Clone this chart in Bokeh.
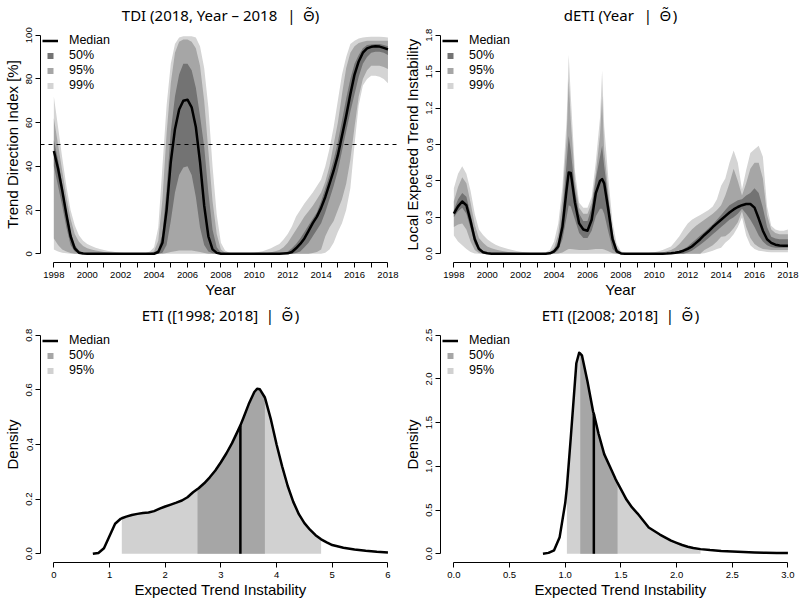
import numpy as np
from bokeh.plotting import figure
from bokeh.models import (FixedTicker, Legend, LegendItem, Span, Range1d, Title,
                          PrintfTickFormatter)
from bokeh.layouts import gridplot
from bokeh.embed import file_html
from bokeh.resources import INLINE

FONT = "Liberation Sans"
TFONT = "Noto Sans"          # renders the combining tilde over Theta correctly
THETA = "\u0398\u0303"
EN, TH, HS = "\u2002", "\u2009", "\u200a"

# ------------------------------------------------------------------ data
tdi_years = np.arange(1998.0, 2018.01, 0.25)
tdi_median = [47, 39, 29, 18, 8, 2.5, 0.5, 0.1, 0, 0, 0, 0, 0, 0, 0, 0, 0, 0, 0, 0, 0, 0, 0, 0,
              0, 0.8, 5, 20, 42, 57, 66, 70, 70.5, 67, 58, 42, 22, 8, 2, 0.4,
              0, 0, 0, 0, 0, 0, 0, 0, 0, 0, 0, 0, 0, 0, 0, 0.1,
              0.2, 0.8, 2.5, 4.5, 7, 10.5, 14, 17, 21, 26, 32, 38, 45, 54, 63, 73,
              82, 88, 92, 94, 94.7, 95, 94.8, 94.2, 93.5]
tdi_lo50 = [40, 31, 22, 12, 4, 1, 0.2, 0, 0, 0, 0, 0, 0, 0, 0, 0, 0, 0, 0, 0, 0, 0, 0, 0,
            0, 0, 0.5, 4, 15, 28, 36, 39.5, 40, 36, 26, 12, 4, 1, 0.2, 0,
            0, 0, 0, 0, 0, 0, 0, 0, 0, 0, 0, 0, 0, 0, 0, 0,
            0, 0, 0.3, 1, 3, 5, 8, 11, 14, 19, 25, 31, 38, 47, 56, 65,
            73, 81, 87, 90, 92, 92.5, 92.5, 92, 91]
tdi_hi50 = [52, 43, 32, 20, 10, 4, 1.5, 0.5, 0.2, 0.1, 0, 0, 0, 0, 0, 0, 0, 0, 0, 0, 0, 0, 0, 0,
            0.2, 2, 9, 30, 56, 72, 82, 87, 87, 84, 76, 63, 49, 28, 11, 3,
            0.5, 0.1, 0, 0, 0, 0, 0, 0, 0, 0, 0, 0, 0, 0, 0.1, 0.3,
            1, 2.5, 4.5, 7, 10, 13, 16, 19, 24, 30, 36, 43, 51, 61, 71, 80,
            87, 91, 94, 95.5, 95.8, 96, 96, 95.5, 95]
tdi_lo95 = [7, 4, 2, 1, 0.3, 0, 0, 0, 0, 0, 0, 0, 0, 0, 0, 0, 0, 0, 0, 0, 0, 0, 0, 0,
            0, 0, 0, 0.3, 0.8, 1.2, 1.5, 1.5, 1.5, 1.5, 1.2, 0.8, 0.3, 0, 0, 0,
            0, 0, 0, 0, 0, 0, 0, 0, 0, 0, 0, 0, 0, 0, 0, 0,
            0, 0, 0, 0, 0, 0, 0.3, 0.8, 2, 8, 12, 15, 20, 25, 32, 43,
            58, 72, 80, 84, 86, 86, 86, 85.5, 84.5]
tdi_hi95 = [62, 50, 38, 26, 16, 9, 5.5, 3.5, 2.5, 2, 1.5, 1.1, 0.8, 0.6, 0.4, 0.3,
            0.2, 0.1, 0.05, 0, 0, 0, 0, 0.3,
            1.2, 6, 25, 55, 78, 92, 97, 98, 98, 97, 94, 86, 70, 47, 24, 9,
            2, 0.5, 0.1, 0, 0, 0, 0, 0, 0, 0.1, 0.2, 0.4, 0.7, 1.1, 1.7, 3,
            5, 8, 11, 14, 17, 19.5, 22, 25, 28, 33, 40, 50, 60, 73, 85, 92,
            95, 96.5, 97, 97.5, 97.5, 97.5, 97.5, 97.5, 97.5]
tdi_lo99 = [2, 1, 0.5, 0.2, 0, 0, 0, 0, 0, 0, 0, 0, 0, 0, 0, 0, 0, 0, 0, 0, 0, 0, 0, 0,
            0, 0, 0, 0, 0, 0, 0, 0, 0, 0, 0, 0, 0, 0, 0, 0,
            0, 0, 0, 0, 0, 0, 0, 0, 0, 0, 0, 0, 0, 0, 0, 0,
            0, 0, 0, 0, 0, 0, 0, 0, 0, 0.5, 2, 5, 10, 14, 20, 30,
            50, 68, 77, 80, 81.5, 81.5, 81, 80, 78]
tdi_hi99 = [72, 58, 44, 31, 20, 13, 8.5, 6, 4.5, 3.5, 2.8, 2.2, 1.7, 1.3, 1, 0.7,
            0.5, 0.3, 0.2, 0.1, 0, 0, 0.3, 1,
            3, 12, 40, 68, 87, 96, 99, 99.5, 99.5, 99.5, 99, 95, 85, 67, 40, 18,
            5, 1.5, 0.5, 0.2, 0.1, 0.1, 0.2, 0.3, 0.5, 0.8, 1.2, 1.8, 2.5, 3.5, 4.5, 6.5,
            9, 12.5, 17, 20, 23, 25.5, 28, 31, 34, 40, 48, 58, 70, 82, 90, 96,
            97.5, 98.5, 99, 99.2, 99.3, 99.3, 99.3, 99.2, 99]
tdi_threshold = 50

deti_years = np.array(sorted(list(np.arange(1998.0, 2018.01, 0.25)) + [2004.875, 2006.875]))
deti_median = [0.33, 0.39, 0.43, 0.40, 0.27, 0.12, 0.04, 0.012, 0.004, 0.001, 0, 0,
               0, 0, 0, 0, 0, 0, 0, 0, 0, 0, 0, 0.004,
               0.02, 0.06, 0.22, 0.53, 0.67, 0.665, 0.42, 0.25, 0.20,
               0.19, 0.28, 0.50, 0.60, 0.615, 0.58, 0.36, 0.12, 0.02,
               0.003, 0, 0, 0, 0, 0, 0, 0, 0, 0, 0.001, 0.002, 0.004, 0.008, 0.015, 0.025,
               0.04, 0.06, 0.09, 0.12, 0.155, 0.185, 0.22, 0.25, 0.28, 0.31, 0.34, 0.365,
               0.385, 0.40, 0.41, 0.41, 0.38, 0.29, 0.19, 0.12, 0.09, 0.075, 0.068, 0.066, 0.065]
deti_lo50 = [0.30, 0.35, 0.38, 0.33, 0.21, 0.08, 0.02, 0.004, 0, 0, 0, 0,
             0, 0, 0, 0, 0, 0, 0, 0, 0, 0, 0, 0,
             0.005, 0.03, 0.12, 0.30, 0.40, 0.39, 0.28, 0.17, 0.13,
             0.13, 0.19, 0.31, 0.37, 0.37, 0.33, 0.18, 0.04, 0.005,
             0, 0, 0, 0, 0, 0, 0, 0, 0, 0, 0, 0, 0, 0, 0, 0,
             0.01, 0.025, 0.05, 0.075, 0.10, 0.13, 0.16, 0.19, 0.22, 0.25, 0.28, 0.30,
             0.33, 0.37, 0.33, 0.28, 0.22, 0.15, 0.10, 0.07, 0.055, 0.05, 0.05, 0.05, 0.05]
deti_hi50 = [0.36, 0.45, 0.50, 0.47, 0.33, 0.16, 0.06, 0.02, 0.008, 0.003, 0.001, 0,
             0, 0, 0, 0, 0, 0, 0, 0, 0, 0, 0.001, 0.006,
             0.03, 0.10, 0.32, 0.75, 0.97, 0.85, 0.52, 0.33, 0.27,
             0.27, 0.38, 0.62, 0.80, 0.89, 0.72, 0.45, 0.16, 0.04,
             0.008, 0.002, 0, 0, 0, 0, 0, 0, 0, 0.001, 0.002, 0.004, 0.008, 0.015, 0.025, 0.04,
             0.06, 0.09, 0.12, 0.15, 0.18, 0.21, 0.24, 0.28, 0.32, 0.36, 0.40, 0.42,
             0.44, 0.45, 0.48, 0.50, 0.54, 0.50, 0.38, 0.22, 0.14, 0.125, 0.12, 0.12, 0.12]
deti_lo95 = [0.22, 0.24, 0.25, 0.20, 0.10, 0.03, 0.006, 0.001, 0, 0, 0, 0,
             0, 0, 0, 0, 0, 0, 0, 0, 0, 0, 0, 0,
             0, 0.003, 0.01, 0.03, 0.04, 0.04, 0.035, 0.03, 0.03,
             0.03, 0.035, 0.04, 0.04, 0.04, 0.035, 0.02, 0.005, 0,
             0, 0, 0, 0, 0, 0, 0, 0, 0, 0, 0, 0, 0, 0, 0, 0, 0, 0, 0, 0,
             0.03, 0.05, 0.07, 0.10, 0.14, 0.145, 0.17, 0.21,
             0.26, 0.35, 0.22, 0.13, 0.08, 0.055, 0.04, 0.035, 0.03, 0.03, 0.03, 0.03, 0.03]
deti_hi95 = [0.43, 0.55, 0.63, 0.58, 0.42, 0.24, 0.13, 0.09, 0.06, 0.045, 0.035, 0.027,
             0.02, 0.015, 0.01, 0.007, 0.005, 0.003, 0.002, 0.001, 0, 0.001, 0.004, 0.012,
             0.05, 0.16, 0.45, 0.95, 1.44, 1.10, 0.60, 0.38, 0.33,
             0.33, 0.42, 0.66, 0.98, 1.30, 0.85, 0.50, 0.18, 0.05,
             0.01, 0.003, 0.001, 0, 0, 0, 0, 0.001, 0.002, 0.005, 0.01, 0.02, 0.03, 0.05, 0.08, 0.12,
             0.16, 0.20, 0.23, 0.255, 0.28, 0.305, 0.33, 0.36, 0.40, 0.48, 0.58, 0.70,
             0.60, 0.48, 0.58, 0.70, 0.75, 0.75, 0.62, 0.32, 0.20, 0.17, 0.16, 0.16, 0.16]
deti_lo99 = [0.15, 0.10, 0.07, 0.04, 0.015, 0.003, 0, 0, 0, 0, 0, 0,
             0, 0, 0, 0, 0, 0, 0, 0, 0, 0, 0, 0,
             0, 0, 0, 0, 0, 0, 0, 0, 0,
             0, 0, 0, 0, 0, 0, 0, 0, 0,
             0, 0, 0, 0, 0, 0, 0, 0, 0, 0, 0, 0, 0, 0, 0, 0, 0, 0, 0, 0,
             0.005, 0.015, 0.025, 0.04, 0.05, 0.09, 0.12, 0.16,
             0.22, 0.30, 0.15, 0.07, 0.04, 0.025, 0.02, 0.015, 0.012, 0.012, 0.012, 0.012, 0.012]
deti_hi99 = [0.54, 0.66, 0.72, 0.66, 0.52, 0.33, 0.20, 0.155, 0.12, 0.095, 0.075, 0.06,
             0.05, 0.04, 0.03, 0.023, 0.017, 0.012, 0.008, 0.005, 0.003, 0.006, 0.012, 0.03,
             0.10, 0.25, 0.55, 1.10, 1.64, 1.30, 0.68, 0.42, 0.38,
             0.38, 0.47, 0.76, 1.12, 1.51, 1.05, 0.62, 0.26, 0.08,
             0.02, 0.008, 0.004, 0.003, 0.003, 0.004, 0.005, 0.008, 0.012, 0.02, 0.03, 0.045,
             0.06, 0.10, 0.145, 0.20,
             0.25, 0.28, 0.30, 0.32, 0.34, 0.36, 0.39, 0.45, 0.56, 0.62, 0.75, 0.85,
             0.75, 0.53, 0.69, 0.83, 0.86, 0.89, 0.80, 0.39, 0.23, 0.20, 0.19, 0.19, 0.20]

eti1_x = [0.7, 0.8, 0.9, 1.0, 1.1, 1.2, 1.22, 1.3, 1.4, 1.5, 1.6, 1.7, 1.8, 1.9, 2.0,
          2.1, 2.2, 2.3, 2.4, 2.5, 2.58, 2.6, 2.7, 2.8, 2.9, 3.0, 3.1, 3.2, 3.3, 3.35,
          3.4, 3.5, 3.6, 3.65, 3.7, 3.79, 3.8, 3.9, 4.0, 4.1, 4.2, 4.3, 4.4, 4.5, 4.6,
          4.7, 4.8, 4.9, 5.0, 5.2, 5.4, 5.6, 5.8, 6.0]
eti1_d = [0.0, 0.003, 0.02, 0.065, 0.110, 0.128, 0.130, 0.136, 0.142, 0.146, 0.149, 0.151,
          0.156, 0.165, 0.173, 0.180, 0.187, 0.195, 0.207, 0.225, 0.237, 0.240, 0.258, 0.28,
          0.305, 0.335, 0.368, 0.405, 0.448, 0.470, 0.495, 0.548, 0.592, 0.604, 0.602, 0.572,
          0.565, 0.490, 0.400, 0.320, 0.248, 0.190, 0.145, 0.112, 0.088, 0.068, 0.053, 0.042,
          0.032, 0.022, 0.016, 0.011, 0.007, 0.005]
eti1_ci95 = (1.22, 4.8)
eti1_ci50 = (2.58, 3.79)
eti1_median = 3.35

eti2_x = [0.8, 0.85, 0.9, 0.95, 1.0, 1.015, 1.05, 1.1, 1.125, 1.135, 1.15, 1.2, 1.25, 1.257,
          1.3, 1.35, 1.4, 1.45, 1.47, 1.5, 1.55, 1.6, 1.65, 1.7, 1.75, 1.8, 1.85, 1.9, 1.95,
          2.0, 2.05, 2.1, 2.15, 2.215, 2.3, 2.4, 2.5, 2.6, 2.7, 2.8, 2.9, 3.0]
eti2_d = [0.0, 0.01, 0.04, 0.19, 0.58, 0.76, 1.33, 2.18, 2.30, 2.29, 2.27, 1.97, 1.63, 1.60,
          1.37, 1.14, 1.00, 0.86, 0.81, 0.74, 0.62, 0.53, 0.46, 0.38, 0.30, 0.26, 0.22, 0.185,
          0.15, 0.125, 0.10, 0.08, 0.066, 0.053, 0.042, 0.032, 0.025, 0.02, 0.015, 0.011,
          0.009, 0.008]
eti2_ci95 = (1.015, 2.215)
eti2_ci50 = (1.135, 1.47)
eti2_median = 1.257

year_ticks = list(range(1998, 2019))
tdi_yticks = [0, 20, 40, 60, 80, 100]
deti_yticks = [0.0, 0.3, 0.6, 0.9, 1.2, 1.5, 1.8]
eti1_xticks = [0, 1, 2, 3, 4, 5, 6]
eti1_yticks = [0.0, 0.2, 0.4, 0.6, 0.8]
eti2_xticks = [0.0, 0.5, 1.0, 1.5, 2.0, 2.5, 3.0]
eti2_yticks = [0.0, 0.5, 1.0, 1.5, 2.0, 2.5]

# ------------------------------------------------------------------ style
DARK, MID, LIGHT = "#737373", "#a6a6a6", "#d4d4d4"
E50, E95 = "#a6a6a6", "#d1d1d1"

W, H = 400, 300
BL, BT, BB = 39, 25, 38
FW, FH = W - BL, H - BT - BB


def make_fig(xr, yr, title):
    p = figure(width=W, height=H, x_range=Range1d(*xr), y_range=Range1d(*yr),
               output_backend="svg", toolbar_location=None,
               min_border_left=BL, min_border_right=0, min_border_top=BT,
               min_border_bottom=BB)
    p.title = Title(text=title, align="center", text_font=TFONT, text_font_size="15px",
                    text_font_style="normal", text_color="black", standoff=4)
    p.outline_line_color = None
    p.grid.visible = False
    p.background_fill_color = "white"
    p.border_fill_color = "white"
    return p


def style_axes(p, xticks, yticks, xbounds, ybounds, xlabel, ylabel,
               xfmt=None, yfmt=None, xover=None):
    xa, ya = p.xaxis[0], p.yaxis[0]
    for ax in (xa, ya):
        ax.axis_line_color = "black"
        ax.axis_line_width = 1
        ax.major_tick_line_color = "black"
        ax.major_tick_line_width = 1
        ax.major_tick_out = 5
        ax.major_tick_in = 0
        ax.minor_tick_line_color = None
        ax.major_label_text_font = FONT
        ax.major_label_text_font_size = "9.5px"
        ax.major_label_text_color = "black"
        ax.axis_label_text_font = FONT
        ax.axis_label_text_font_size = "15px"
        ax.axis_label_text_font_style = "normal"
        ax.axis_label_text_color = "black"
    xa.axis_label_standoff = 0
    ya.axis_label_standoff = 3
    xa.axis_label = xlabel
    ya.axis_label = ylabel
    xa.ticker = FixedTicker(ticks=xticks, minor_ticks=[])
    ya.ticker = FixedTicker(ticks=yticks, minor_ticks=[])
    xa.bounds = xbounds
    ya.bounds = ybounds
    xa.major_label_standoff = 4
    ya.major_label_standoff = 3
    ya.major_label_orientation = "vertical"
    if xfmt:
        xa.formatter = PrintfTickFormatter(format=xfmt)
    if yfmt:
        ya.formatter = PrintfTickFormatter(format=yfmt)
    if xover:
        xa.major_label_overrides = xover


def add_legend(p, med_r, entries):
    items = [LegendItem(label="Median", renderers=[med_r])]
    for lab, col in entries:
        r = p.scatter(x=[np.nan], y=[np.nan], marker="square", size=10,
                      fill_color=col, line_color=None)
        items.append(LegendItem(label=lab, renderers=[r]))
    n = len(items)
    leg = Legend(items=items, location=(2, FH - 7.5 - 15 * n), glyph_width=16,
                 glyph_height=15, label_height=15, spacing=0, padding=0, margin=0,
                 label_standoff=11, border_line_color=None, background_fill_alpha=0,
                 label_text_font=FONT, label_text_font_size="12.5px",
                 label_text_color="black")
    p.add_layout(leg)


year_labels = {y: (str(y) if y % 2 == 0 else "") for y in year_ticks}

SY = 16.75
YX0 = 1998 - 13.4 / SY
yr_range = (YX0, YX0 + FW / SY)

# ------------------------------------------------------------------ panel 1: TDI
p1 = make_fig(yr_range, (-4, 104),
              "TDI (2018, Year \u2013 2018" + EN + TH + "|" + EN + THETA + ")")
p1.varea(x=tdi_years, y1=tdi_lo99, y2=tdi_hi99, fill_color=LIGHT)
p1.varea(x=tdi_years, y1=tdi_lo95, y2=tdi_hi95, fill_color=MID)
p1.varea(x=tdi_years, y1=tdi_lo50, y2=tdi_hi50, fill_color=DARK)
m1 = p1.line(tdi_years, tdi_median, line_color="black", line_width=2.5, line_join="round")
p1.add_layout(Span(location=tdi_threshold, dimension="width", line_color="black",
                   line_width=1, line_dash="4 4"))
style_axes(p1, year_ticks, tdi_yticks, (1998, 2018), (0, 100), "Year",
           "Trend Direction Index [%]", xover=year_labels)
add_legend(p1, m1, [("50%", DARK), ("95%", MID), ("99%", LIGHT)])

# ------------------------------------------------------------------ panel 2: dETI
p2 = make_fig(yr_range, (-0.072, 1.872),
              "dETI (Year" + EN + TH + "|" + EN + THETA + HS + ")")
p2.varea(x=deti_years, y1=deti_lo99, y2=deti_hi99, fill_color=LIGHT)
p2.varea(x=deti_years, y1=deti_lo95, y2=deti_hi95, fill_color=MID)
p2.varea(x=deti_years, y1=deti_lo50, y2=deti_hi50, fill_color=DARK)
m2 = p2.line(deti_years, deti_median, line_color="black", line_width=2.5, line_join="round")
style_axes(p2, year_ticks, deti_yticks, (1998, 2018), (0, 1.8), "Year",
           "Local Expected Trend Instability", yfmt="%.1f", xover=year_labels)
add_legend(p2, m2, [("50%", DARK), ("95%", MID), ("99%", LIGHT)])


# ------------------------------------------------------------------ density panels
def density_panel(p, xs, ds, ci95, ci50, med):
    xs = np.asarray(xs, dtype=float)
    ds = np.asarray(ds, dtype=float)
    m95 = (xs >= ci95[0] - 1e-9) & (xs <= ci95[1] + 1e-9)
    m50 = (xs >= ci50[0] - 1e-9) & (xs <= ci50[1] + 1e-9)
    p.varea(x=xs[m95], y1=0, y2=ds[m95], fill_color=E95)
    p.varea(x=xs[m50], y1=0, y2=ds[m50], fill_color=E50)
    r = p.line(xs, ds, line_color="black", line_width=2.5, line_join="round")
    i = int(np.argmin(np.abs(xs - med)))
    p.segment(x0=[med], y0=[0], x1=[med], y1=[ds[i]], line_color="black", line_width=2.5)
    return r


s3 = SY * 20 / 6
x3 = -13.4 / s3
p3 = make_fig((x3, x3 + FW / s3), (-0.032, 0.832),
              "ETI ([1998; 2018]" + EN + "|" + EN + THETA + HS + ")")
m3 = density_panel(p3, eti1_x, eti1_d, eti1_ci95, eti1_ci50, eti1_median)
style_axes(p3, eti1_xticks, eti1_yticks, (0, 6), (0, 0.8), "Expected Trend Instability",
           "Density", xfmt="%d", yfmt="%.1f")
add_legend(p3, m3, [("50%", E50), ("95%", E95)])

s4 = SY * 20 / 3
x4 = -13.4 / s4
p4 = make_fig((x4, x4 + FW / s4), (-0.1, 2.6),
              "ETI ([2008; 2018]" + EN + "|" + EN + THETA + HS + ")")
m4 = density_panel(p4, eti2_x, eti2_d, eti2_ci95, eti2_ci50, eti2_median)
style_axes(p4, eti2_xticks, eti2_yticks, (0, 3), (0, 2.5), "Expected Trend Instability",
           "Density", xfmt="%.1f", yfmt="%.1f")
add_legend(p4, m4, [("50%", E50), ("95%", E95)])

grid = gridplot([[p1, p2], [p3, p4]], toolbar_location=None)

with open("out.html", "w") as f:
    f.write(file_html(grid, INLINE))
